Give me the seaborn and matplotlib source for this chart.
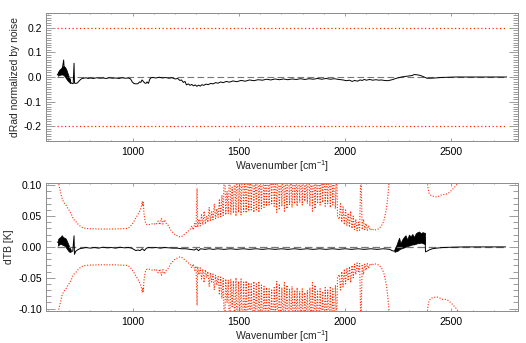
import numpy as np
import matplotlib
matplotlib.use("Agg")
import matplotlib.pyplot as plt
import seaborn as sns

# ---------------- data ----------------
# top panel: dRad normalised by noise
top_wn = [645, 650, 656, 662, 668, 675, 678, 684, 690, 696, 702, 708, 714, 720, 724, 726, 732, 740, 748, 755,
          762, 770, 780, 790, 800, 815, 830, 845, 860, 875, 890, 905, 920, 935, 950, 965, 980, 990, 998, 1005,
          1015, 1025, 1032, 1038, 1044, 1050, 1056, 1062, 1068, 1074, 1080, 1086, 1095, 1110, 1125, 1140, 1155,
          1170, 1185, 1200, 1212, 1222, 1230, 1238, 1246, 1253, 1262, 1270, 1278, 1286, 1294, 1302, 1310, 1318,
          1326, 1334, 1345, 1356, 1367, 1378, 1390, 1402, 1414, 1426, 1440, 1455, 1472, 1490, 1510, 1530, 1550,
          1570, 1590, 1611, 1630, 1650, 1670, 1690, 1710, 1730, 1750, 1770, 1790, 1810, 1830, 1850, 1870, 1890,
          1910, 1930, 1950, 1970, 1990, 2005, 2020, 2033, 2045, 2058, 2070, 2080, 2090, 2100, 2115, 2130, 2145,
          2158, 2170, 2185, 2200, 2212, 2225, 2238, 2252, 2265, 2280, 2299, 2315, 2325, 2338, 2350, 2361, 2372,
          2385, 2400, 2424, 2450, 2487, 2520, 2600, 2700, 2760]
top_val = [0.008, 0.015, 0.02, 0.025, 0.028, 0.069, 0.03, 0.022, 0.012, 0.0, -0.012, -0.022, -0.026, -0.027,
           0.056, -0.025, -0.026, -0.024, -0.016, -0.010, -0.006, -0.005, -0.003, -0.006, -0.004, -0.006, -0.003,
           -0.005, -0.004, -0.006, -0.003, -0.005, -0.004, -0.006, -0.003, -0.005, -0.004, -0.008, -0.02, -0.026,
           -0.028, -0.027, -0.02, -0.022, -0.012, -0.018, -0.024, -0.026, -0.02, -0.026, -0.01, -0.003, -0.002,
           -0.004, -0.001, -0.004, -0.002, -0.005, -0.003, -0.008, -0.006, -0.014, -0.012, -0.022, -0.018, -0.032,
           -0.028, -0.034, -0.03, -0.036, -0.032, -0.038, -0.033, -0.037, -0.031, -0.034, -0.029, -0.031, -0.026,
           -0.028, -0.023, -0.025, -0.02, -0.023, -0.018, -0.021, -0.016, -0.019, -0.014, -0.017, -0.012, -0.015,
           -0.011, -0.013, -0.009, -0.012, -0.008, -0.011, -0.008, -0.011, -0.008, -0.01, -0.007, -0.01, -0.007,
           -0.009, -0.006, -0.009, -0.006, -0.009, -0.007, -0.01, -0.012, -0.015, -0.013, -0.018, -0.014, -0.017,
           -0.012, -0.014, -0.01, -0.013, -0.01, -0.013, -0.011, -0.013, -0.012, -0.014, -0.015, -0.013, -0.01,
           -0.006, -0.003, 0.0, 0.002, 0.004, 0.006, 0.01, 0.009, 0.007, 0.004, 0.0, -0.005, -0.005, -0.004,
           -0.002, -0.001, 0.0, 0.0, 0.0, 0.0]
top_band_wn = [648, 655, 662, 668, 675, 682, 688, 694, 700, 706]
top_band_lo = [0.005, 0.008, 0.01, 0.01, 0.008, 0.0, -0.008, -0.015, -0.02, -0.025]
top_band_hi = [0.02, 0.03, 0.035, 0.042, 0.045, 0.04, 0.03, 0.015, 0.0, -0.01]
top_limit = 0.2

# bottom panel: dTB [K]
bt_wn = [645, 650, 660, 670, 680, 690, 700, 710, 718, 724, 726, 732, 740, 750, 765, 780, 800, 820, 840, 860,
         880, 900, 920, 940, 960, 980, 995, 1005, 1015, 1025, 1035, 1045, 1055, 1065, 1075, 1090, 1110, 1130,
         1150, 1170, 1190, 1210, 1230, 1250, 1270, 1290, 1300, 1310, 1320, 1340, 1360, 1380, 1400, 1430, 1460,
         1490, 1520, 1550, 1580, 1610, 1640, 1670, 1700, 1730, 1760, 1790, 1820, 1850, 1880, 1910, 1940, 1970,
         2000, 2030, 2060, 2090, 2120, 2150, 2180, 2210, 2220, 2232, 2250, 2270, 2290, 2310, 2330, 2350, 2370,
         2376, 2378, 2385, 2395, 2410, 2430, 2460, 2500, 2560, 2620, 2680, 2755]
bt_val = [0.008, 0.007, 0.01, 0.01, 0.008, 0.004, -0.004, -0.007, -0.007, 0.018, -0.012, -0.007, -0.005,
          -0.003, -0.002, -0.001, -0.002, -0.001, -0.002, -0.0005, -0.0015, -0.001, -0.002, -0.0005, -0.0015,
          -0.001, -0.002, -0.004, -0.006, -0.005, -0.006, -0.003, -0.006, -0.002, -0.001, -0.0015, -0.001,
          -0.002, -0.001, -0.0015, -0.002, -0.002, -0.003, -0.003, -0.004, -0.005, -0.003, -0.006, -0.003,
          -0.004, -0.003, -0.004, -0.003, -0.004, -0.003, -0.004, -0.003, -0.004, -0.003, -0.004, -0.003,
          -0.004, -0.003, -0.004, -0.003, -0.004, -0.003, -0.004, -0.003, -0.004, -0.003, -0.004, -0.003,
          -0.004, -0.003, -0.004, -0.003, -0.004, -0.003, -0.004, -0.006, -0.007, 0.004, 0.006, 0.009, 0.011,
          0.012, 0.015, 0.015, 0.015, -0.008, -0.007, -0.005, -0.003, -0.002, -0.001, -0.0005, 0.0, 0.0, 0.0, 0.0]
bt_band1_wn = [648, 654, 660, 666, 672, 678, 684, 690, 696, 702, 708]
bt_band1_lo = [0.002, 0.004, 0.005, 0.004, 0.003, 0.002, 0.0, -0.003, -0.006, -0.008, -0.008]
bt_band1_hi = [0.012, 0.015, 0.016, 0.019, 0.016, 0.015, 0.014, 0.01, 0.005, 0.0, -0.004]
bt_band2_wn = [2232, 2240, 2248, 2254, 2260, 2268, 2276, 2284, 2292, 2300, 2308, 2316, 2324, 2332, 2340,
               2348, 2356, 2364, 2372, 2376]
bt_band2_lo = [-0.008, -0.007, -0.006, -0.004, -0.003, -0.002, -0.001, 0.0, 0.001, 0.002, 0.003, 0.004,
               0.004, 0.005, 0.006, 0.006, 0.007, 0.006, 0.005, 0.005]
bt_band2_hi = [-0.004, 0.002, 0.010, 0.015, 0.006, 0.012, 0.016, 0.019, 0.012, 0.020, 0.017, 0.021, 0.016,
               0.022, 0.024, 0.025, 0.022, 0.024, 0.023, 0.023]

# noise level (± envelope) in dTB
noise_wn = [645, 650, 655, 660, 665, 670, 675, 680, 686, 692, 700, 709, 715, 721, 727, 733, 740, 748, 756, 765,
            780, 800, 850, 900, 950, 975, 985, 998, 1010, 1022, 1030, 1037, 1042, 1045, 1048, 1050, 1053, 1057,
            1061, 1068, 1076, 1085, 1100, 1110, 1120, 1128, 1135, 1142, 1150, 1158, 1165, 1172, 1178, 1185,
            1195, 1205, 1215, 1225, 1235, 1245, 1255, 1262, 1270, 1278, 1285, 1292, 1298, 1303, 1306, 1312,
            1318, 1324, 1330, 1336, 1342, 1348, 1354, 1360, 1366, 1372, 1378, 1384, 1390, 1396, 1402, 1408,
            1414, 1420, 1426, 1432, 1438, 1444, 1450, 1456, 1462, 1468, 1474, 1480, 1486, 1492, 1498, 1504,
            1510, 1516, 1522, 1528, 1534, 1540, 1546, 1552, 1558, 1564, 1570, 1576, 1582, 1588, 1594, 1600,
            1606, 1612, 1618, 1624, 1630, 1636, 1642, 1648, 1654, 1660, 1666, 1672, 1678, 1684, 1690, 1696,
            1702, 1708, 1714, 1720, 1726, 1732, 1738, 1744, 1750, 1756, 1762, 1768, 1774, 1780, 1786, 1792,
            1798, 1804, 1810, 1816, 1822, 1828, 1834, 1840, 1846, 1852, 1858, 1864, 1870, 1876, 1882, 1888,
            1894, 1900, 1906, 1912, 1918, 1924, 1930, 1936, 1942, 1948, 1954, 1960, 1964, 1972, 1978, 1984,
            1990, 1996, 2002, 2008, 2014, 2020, 2026, 2032, 2038, 2044, 2050, 2056, 2062, 2068, 2074, 2080,
            2086, 2092, 2098, 2104, 2110, 2118, 2126, 2135, 2145, 2155, 2163, 2170, 2177, 2183, 2190, 2195,
            2199, 2203, 2207, 2212, 2230, 2370, 2385, 2390, 2395, 2405, 2418, 2430, 2445, 2457, 2470, 2485,
            2495, 2504, 2515, 2525, 2535, 2550, 2600, 2760]
noise_val = [0.115, 0.105, 0.097, 0.09, 0.082, 0.076, 0.073, 0.07, 0.068, 0.064, 0.06, 0.055, 0.05, 0.045,
             0.043, 0.041, 0.038, 0.035, 0.033, 0.031, 0.030, 0.0295, 0.029, 0.029, 0.0295, 0.030, 0.032,
             0.037, 0.044, 0.051, 0.056, 0.061, 0.068, 0.074, 0.066, 0.072, 0.055, 0.045, 0.038, 0.036, 0.036,
             0.037, 0.038, 0.036, 0.042, 0.036, 0.046, 0.037, 0.044, 0.038, 0.036, 0.032, 0.028, 0.025, 0.021,
             0.019, 0.017, 0.016, 0.018, 0.021, 0.024, 0.026, 0.028, 0.034, 0.028, 0.038, 0.031, 0.095, 0.032,
             0.045, 0.034, 0.052, 0.036, 0.058, 0.037, 0.05, 0.04, 0.064, 0.042, 0.057, 0.044, 0.07, 0.046,
             0.062, 0.048, 0.078, 0.049, 0.084, 0.051, 0.14, 0.052, 0.09, 0.054, 0.14, 0.053, 0.097, 0.055,
             0.13, 0.05, 0.14, 0.056, 0.11, 0.052, 0.14, 0.057, 0.12, 0.055, 0.14, 0.058, 0.13, 0.06, 0.14,
             0.056, 0.12, 0.06, 0.14, 0.056, 0.13, 0.062, 0.14, 0.064, 0.12, 0.066, 0.14, 0.068, 0.13, 0.07,
             0.14, 0.066, 0.12, 0.056, 0.14, 0.06, 0.13, 0.066, 0.14, 0.058, 0.12, 0.062, 0.14, 0.068, 0.13,
             0.064, 0.14, 0.07, 0.12, 0.066, 0.14, 0.072, 0.13, 0.068, 0.14, 0.074, 0.12, 0.07, 0.14, 0.066,
             0.13, 0.058, 0.14, 0.062, 0.12, 0.07, 0.14, 0.068, 0.13, 0.072, 0.14, 0.066, 0.12, 0.07, 0.14,
             0.064, 0.13, 0.068, 0.14, 0.062, 0.13, 0.05, 0.045, 0.07, 0.04, 0.065, 0.036, 0.06, 0.034, 0.055,
             0.032, 0.058, 0.03, 0.05, 0.028, 0.045, 0.026, 0.04, 0.027, 0.13, 0.028, 0.045, 0.028, 0.038,
             0.027, 0.035, 0.027, 0.03, 0.027, 0.028, 0.029, 0.031, 0.034, 0.038, 0.044, 0.055, 0.065, 0.076,
             0.09, 0.105, 0.13, 0.3, 0.3, 0.11, 0.095, 0.087, 0.083, 0.082, 0.081, 0.083, 0.085, 0.085, 0.087,
             0.09, 0.093, 0.097, 0.101, 0.106, 0.115, 0.14, 0.3]

zero_wn = [645, 2760]
zero_val = [0.0, 0.0]

# ---------------- style ----------------
sns.set_style("ticks")
plt.rcParams["font.family"] = ["Liberation Sans", "DejaVu Sans"]
plt.rcParams["mathtext.fontset"] = "custom"
plt.rcParams["mathtext.rm"] = "Liberation Sans"
plt.rcParams["mathtext.default"] = "regular"
FS = 7.5
AXC = "#8c8c8c"
RED = "#ff2a00"

fig = plt.figure(figsize=(5.26, 3.43), dpi=100)
ax1 = fig.add_axes([46 / 526, (343 - 141) / 343, 471.5 / 526, 128 / 343])
ax2 = fig.add_axes([46 / 526, (343 - 311.3) / 343, 471.5 / 526, 128.6 / 343])


def style_axis(ax, ymajor, yminor):
    for s in ax.spines.values():
        s.set_color(AXC)
        s.set_linewidth(0.7)
        s.set_visible(True)
    ax.set_xlim(592, 2811)
    ax.set_xticks([1000, 1500, 2000, 2500])
    ax.set_xticks(np.arange(600, 2801, 100), minor=True)
    ax.set_yticks(ymajor)
    ax.set_yticks(yminor, minor=True)
    ax.tick_params(axis="both", which="both", direction="in", color=AXC, width=0.6,
                   top=True, right=True, labelsize=FS, labelcolor="black")
    ax.tick_params(axis="y", which="major", length=6.8, pad=3)
    ax.tick_params(axis="y", which="minor", length=3.4)
    ax.tick_params(axis="x", which="major", length=2.0, pad=4)
    ax.tick_params(axis="x", which="minor", length=1.0)
    ax.set_xlabel("Wavenumber [cm$^{-1}$]", fontsize=FS, labelpad=1)


# top panel
sns.lineplot(x=zero_wn, y=zero_val, ax=ax1, color="#777777", lw=0.8, linestyle=(0, (6, 3)),
             estimator=None, errorbar=None, sort=False)
sns.lineplot(x=zero_wn, y=[top_limit, top_limit], ax=ax1, color=RED, lw=0.9, linestyle=(0, (1, 2)),
             estimator=None, errorbar=None, sort=False)
sns.lineplot(x=zero_wn, y=[-top_limit, -top_limit], ax=ax1, color=RED, lw=0.9, linestyle=(0, (1, 2)),
             estimator=None, errorbar=None, sort=False)
ax1.fill_between(top_band_wn, top_band_lo, top_band_hi, color="black", lw=0.5)
sns.lineplot(x=top_wn, y=top_val, ax=ax1, color="black", lw=0.7, estimator=None, errorbar=None, sort=False)
ax1.set_ylim(-0.26, 0.26)
style_axis(ax1, [-0.2, -0.1, 0.0, 0.1, 0.2], np.round(np.arange(-0.26, 0.261, 0.01), 2))
ax1.set_yticklabels(["-0.2", "-0.1", "0.0", "0.1", "0.2"])
ax1.set_ylabel("dRad normalized by noise", fontsize=FS, labelpad=3)

# bottom panel
neg_noise = [-v for v in noise_val]
sns.lineplot(x=noise_wn, y=noise_val, ax=ax2, color=RED, lw=0.8, linestyle=(0, (1, 1.5)),
             estimator=None, errorbar=None, sort=False)
sns.lineplot(x=noise_wn, y=neg_noise, ax=ax2, color=RED, lw=0.8, linestyle=(0, (1, 1.5)),
             estimator=None, errorbar=None, sort=False)
sns.lineplot(x=zero_wn, y=zero_val, ax=ax2, color="#777777", lw=0.9, linestyle=(0, (6, 3)),
             estimator=None, errorbar=None, sort=False)
ax2.fill_between(bt_band1_wn, bt_band1_lo, bt_band1_hi, color="black", lw=0.5)
ax2.fill_between(bt_band2_wn, bt_band2_lo, bt_band2_hi, color="black", lw=0.5)
sns.lineplot(x=bt_wn, y=bt_val, ax=ax2, color="black", lw=0.7, estimator=None, errorbar=None, sort=False)
ax2.set_ylim(-0.1045, 0.1042)
style_axis(ax2, [-0.10, -0.05, 0.0, 0.05, 0.10], np.round(np.arange(-0.10, 0.101, 0.01), 2))
ax2.set_yticklabels(["-0.10", "-0.05", "0.00", "0.05", "0.10"])
ax2.set_ylabel("dTB [K]", fontsize=FS, labelpad=3)

fig.savefig("out.png", dpi=100)
